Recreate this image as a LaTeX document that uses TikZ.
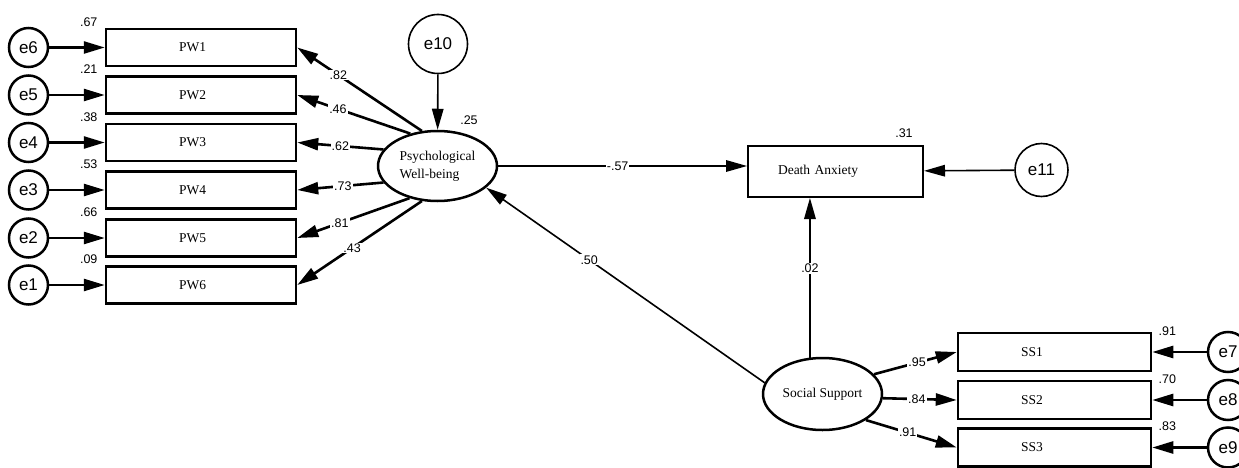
\documentclass[tikz,border=0pt]{standalone}
\usepackage{fontspec}
\setmainfont{Liberation Serif}
\newfontfamily\arialf{Liberation Sans}
\usetikzlibrary{arrows.meta,shapes.geometric,calc}
\tikzset{
  errl/.style={circle, draw, line width=2.5pt, minimum size=39pt, inner sep=0pt, font=\arialf\fontsize{17}{17}\selectfont},
  errt/.style={circle, draw, line width=1.6pt, inner sep=0pt, font=\arialf\fontsize{17}{17}\selectfont},
  obs/.style={rectangle, draw, line width=2.5pt, minimum height=37pt, inner ysep=0pt, align=left, font=\fontsize{13.5}{16}\selectfont},
  pwbox/.style={obs, inner xsep=73pt, text width=44pt},
  ssbox/.style={obs, minimum height=38pt, inner xsep=63pt, text width=67pt},
  lat/.style={ellipse, draw, line width=2.5pt, minimum width=119pt, minimum height=70pt, inner sep=0pt, font=\fontsize{13.5}{18}\selectfont},
  num/.style={font=\arialf\fontsize{12.5}{13}\selectfont, inner sep=1pt},
  coef/.style={num, fill=white},
  thickarr/.style={line width=2.6pt, -{Triangle[length=21pt,width=12pt]}},
  thinarr/.style={line width=1.6pt, -{Triangle[length=21pt,width=11.5pt]}}
}
\begin{document}
\begin{tikzpicture}[x=1pt,y=-1pt]
\useasboundingbox (0,0) rectangle (1239,468);
% left indicators
\foreach \i/\e/\y in {1/6/47.5, 2/5/95, 3/4/142.5, 4/3/190, 5/2/238, 6/1/285}{
  \node[pwbox] (pw\i) at (201,\y) {PW\i};
  \node[errl] (e\e) at (28.5,\y) {e\e};
  \draw[thickarr] (e\e) -- (pw\i);
}
\node[num] (v1) at ([xshift=-16pt,yshift=6pt]pw1.north west) {.67};
\node[num] (v2) at ([xshift=-16pt,yshift=6pt]pw2.north west) {.21};
\node[num] (v3) at ([xshift=-16pt,yshift=6pt]pw3.north west) {.38};
\node[num] (v4) at ([xshift=-16pt,yshift=6pt]pw4.north west) {.53};
\node[num] (v5) at ([xshift=-16pt,yshift=6pt]pw5.north west) {.66};
\node[num] (v6) at ([xshift=-16pt,yshift=6pt]pw6.north west) {.09};
% latent PWB
\node[lat, align=left] (pwb) at (437.5,166) {Psychological\\Well-being};
\node[errt, minimum size=59pt] (e10) at (438,44) {e10};
\draw[thinarr] (e10) -- (pwb);
\node[num] (v25) at (469,120) {.25};
\draw[thickarr] (pwb.114) -- node[coef,pos=0.67]{.82} (pw1.east);
\draw[thickarr] (pwb.130) -- node[coef,pos=0.64]{.46} (pw2.east);
\draw[thickarr] (pwb.163) -- node[coef,pos=0.5]{.62} (pw3.east);
\draw[thickarr] (pwb.197) -- node[coef,pos=0.47]{.73} (pw4.east);
\draw[thickarr] (pwb.229) -- node[coef,pos=0.62]{.81} (pw5.east);
\draw[thickarr] (pwb.246) -- node[coef,pos=0.56]{.43} (pw6.east);
% Death anxiety
\node[rectangle, draw, line width=2pt, minimum height=51pt, inner xsep=30pt, text width=115pt, align=left, font=\fontsize{13.5}{16}\selectfont] (da) at (835.5,171.5) {\raisebox{3pt}{Death Anxiety}};
\node[num] (v31) at (904,133) {.31};
\node[errt, minimum size=53pt] (e11) at (1041.5,170) {e11};
\draw[thinarr] (e11) -- (da);
\draw[thinarr] (pwb.east) -- node[coef,pos=0.48]{-.57} (pwb.east -| da.west);
% Social support
\node[lat, minimum height=72pt] (ss) at (822.5,394) {Social Support};
\draw[thinarr] (ss.109.5) -- node[coef,pos=0.56]{.02} (ss.109.5 |- da.south);
\draw[thinarr] (ss.169) -- node[coef,pos=0.63]{.50} (pwb.336);
\foreach \i/\e/\y in {1/7/352, 2/8/400, 3/9/447.5}{
  \node[ssbox] (ss\i) at (1054.5,\y) {SS\i};
  \node[errl, minimum size=40pt] (e\e) at (1228,\y) {e\e};
  \draw[thickarr] (e\e) -- (ss\i);
}
\node[num] (v91) at ([xshift=15pt,yshift=1pt]ss1.north east) {.91};
\node[num] (v70) at ([xshift=15pt,yshift=1pt]ss2.north east) {.70};
\node[num] (v83) at ([xshift=15pt,yshift=1pt]ss3.north east) {.83};
\draw[thickarr] (ss.21) -- node[coef,pos=0.52]{.95} (ss1.west);
\draw[thickarr] (ss.356) -- node[coef,pos=0.46]{.84} (ss2.west);
\draw[thickarr] (ss.329.5) -- node[coef,pos=0.46]{.91} (ss3.west);
\end{tikzpicture}
\end{document}
